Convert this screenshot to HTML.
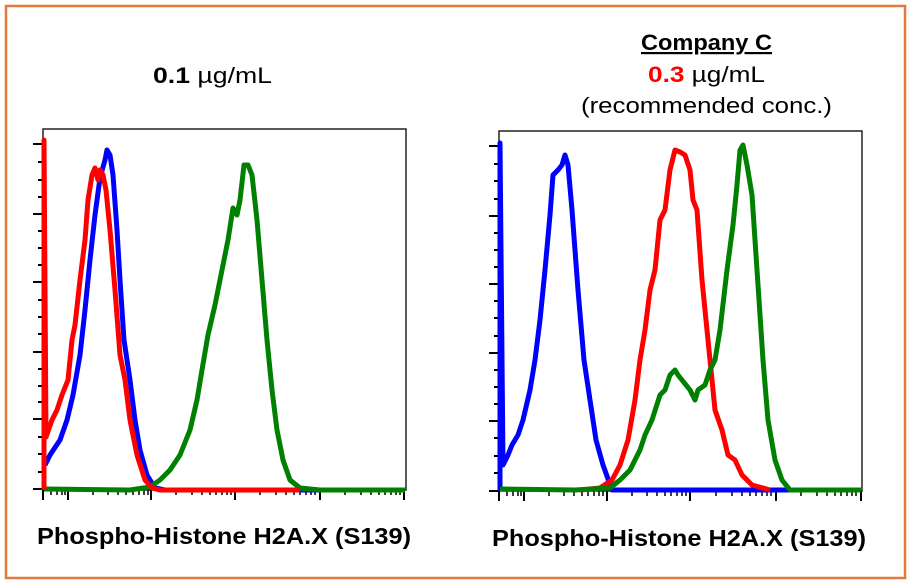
<!DOCTYPE html>
<html><head><meta charset="utf-8"><style>
body{margin:0;background:#fff;}
svg{display:block}
text{font-family:"Liberation Sans",sans-serif;}
</style></head><body>
<svg width="911" height="588" viewBox="0 0 911 588" xmlns="http://www.w3.org/2000/svg">
<rect x="6" y="6" width="899" height="572" fill="#fff" stroke="#e07b39" stroke-width="2.5"/>
<g font-size="22" fill="#000">
<text x="153" y="83" textLength="119" lengthAdjust="spacingAndGlyphs"><tspan font-weight="bold">0.1</tspan> µg/mL</text>
<text x="641" y="50" font-weight="bold" text-decoration="underline" textLength="131" lengthAdjust="spacingAndGlyphs">Company C</text>
<text x="648" y="82" textLength="117" lengthAdjust="spacingAndGlyphs"><tspan font-weight="bold" fill="#f00">0.3</tspan> µg/mL</text>
<text x="581" y="113" textLength="251" lengthAdjust="spacingAndGlyphs">(recommended conc.)</text>
</g>
<g font-size="23" font-weight="bold" fill="#000">
<text x="37" y="544" textLength="374" lengthAdjust="spacingAndGlyphs">Phospho-Histone H2A.X (S139)</text>
<text x="492" y="546" textLength="374" lengthAdjust="spacingAndGlyphs">Phospho-Histone H2A.X (S139)</text>
</g>
<!-- left plot -->
<g>
<rect x="43" y="129" width="363" height="361" fill="none" stroke="#222" stroke-width="1.5"/>
<g stroke="#000" stroke-width="2">
<line x1="33" y1="144" x2="43" y2="144"/><line x1="33" y1="214" x2="43" y2="214"/><line x1="33" y1="282" x2="43" y2="282"/><line x1="33" y1="352" x2="43" y2="352"/><line x1="33" y1="419" x2="43" y2="419"/><line x1="33" y1="489" x2="43" y2="489"/>
<line x1="38" y1="162" x2="43" y2="162"/><line x1="38" y1="180" x2="43" y2="180"/><line x1="38" y1="197" x2="43" y2="197"/><line x1="38" y1="231" x2="43" y2="231"/><line x1="38" y1="248" x2="43" y2="248"/><line x1="38" y1="265" x2="43" y2="265"/><line x1="38" y1="300" x2="43" y2="300"/><line x1="38" y1="317" x2="43" y2="317"/><line x1="38" y1="334" x2="43" y2="334"/><line x1="38" y1="369" x2="43" y2="369"/><line x1="38" y1="386" x2="43" y2="386"/><line x1="38" y1="402" x2="43" y2="402"/><line x1="38" y1="437" x2="43" y2="437"/><line x1="38" y1="454" x2="43" y2="454"/><line x1="38" y1="472" x2="43" y2="472"/>
<line x1="43" y1="490" x2="43" y2="500"/><line x1="68" y1="490" x2="68" y2="500"/><line x1="151" y1="490" x2="151" y2="500"/><line x1="235" y1="490" x2="235" y2="500"/><line x1="320" y1="490" x2="320" y2="500"/><line x1="404" y1="490" x2="404" y2="500"/>
</g>
<g stroke="#000" stroke-width="1.5">
<path d="M51 490v5M57 490v5M62 490v5M65 490v5M93 490v5M108 490v5M118 490v5M126 490v5M133 490v5M139 490v5M144 490v5M148 490v5M176 490v5M192 490v5M202 490v5M210 490v5M216 490v5M222 490v5M227 490v5M231 490v5M260 490v5M276 490v5M286 490v5M294 490v5M300 490v5M306 490v5M311 490v5M315 490v5M345 490v5M361 490v5M371 490v5M379 490v5M385 490v5M391 490v5M396 490v5M400 490v5"/>
</g>
<g fill="none" stroke-width="5" stroke-linejoin="round">
<polyline stroke="#0000ff" points="45,465 50,455 60,440 67,420 73,395 80,355 85,310 90,260 95,215 100,178 105,160 107,150 110,155 113,175 117,230 120,280 124,340 130,380 135,420 140,450 147,475 155,488 165,490 405,490"/>
<polyline stroke="#008000" points="44,489 130,490 150,487 160,480 170,470 180,455 190,430 197,400 202,370 208,335 215,305 222,270 228,240 233,208 237,215 240,200 244,165 248,165 252,175 257,220 262,280 267,340 272,390 277,430 283,460 290,480 300,488 320,490 405,490"/>
<polyline stroke="#ff0000" points="44,490 44,140 46,437 52,420 57,410 62,395 68,380 72,340 75,325 80,280 85,240 88,200 92,175 95,168 98,180 100,170 103,175 106,190 110,230 115,290 120,355 125,380 130,420 137,455 145,480 152,488 160,490 300,490"/>
</g>
</g>
<!-- right plot -->
<g>
<rect x="499" y="131" width="363" height="360" fill="none" stroke="#222" stroke-width="1.5"/>
<g stroke="#000" stroke-width="2">
<line x1="489" y1="146" x2="499" y2="146"/><line x1="489" y1="216" x2="499" y2="216"/><line x1="489" y1="284" x2="499" y2="284"/><line x1="489" y1="353" x2="499" y2="353"/><line x1="489" y1="421" x2="499" y2="421"/><line x1="489" y1="491" x2="499" y2="491"/>
<line x1="494" y1="164" x2="499" y2="164"/><line x1="494" y1="181" x2="499" y2="181"/><line x1="494" y1="199" x2="499" y2="199"/><line x1="494" y1="233" x2="499" y2="233"/><line x1="494" y1="250" x2="499" y2="250"/><line x1="494" y1="267" x2="499" y2="267"/><line x1="494" y1="301" x2="499" y2="301"/><line x1="494" y1="318" x2="499" y2="318"/><line x1="494" y1="336" x2="499" y2="336"/><line x1="494" y1="370" x2="499" y2="370"/><line x1="494" y1="387" x2="499" y2="387"/><line x1="494" y1="404" x2="499" y2="404"/><line x1="494" y1="438" x2="499" y2="438"/><line x1="494" y1="456" x2="499" y2="456"/><line x1="494" y1="473" x2="499" y2="473"/>
<line x1="499" y1="491" x2="499" y2="501"/><line x1="524" y1="491" x2="524" y2="501"/><line x1="607" y1="491" x2="607" y2="501"/><line x1="690" y1="491" x2="690" y2="501"/><line x1="776" y1="491" x2="776" y2="501"/><line x1="861" y1="491" x2="861" y2="501"/>
</g>
<g stroke="#000" stroke-width="1.5">
<path d="M507 491v5M513 491v5M518 491v5M521 491v5M549 491v5M564 491v5M574 491v5M582 491v5M588 491v5M594 491v5M599 491v5M603 491v5M632 491v5M647 491v5M657 491v5M665 491v5M671 491v5M677 491v5M682 491v5M686 491v5M716 491v5M732 491v5M742 491v5M750 491v5M756 491v5M762 491v5M767 491v5M771 491v5M801 491v5M817 491v5M827 491v5M835 491v5M841 491v5M847 491v5M852 491v5M856 491v5"/>
</g>
<g fill="none" stroke-width="5" stroke-linejoin="round">
<polyline stroke="#0000ff" points="500,491 500,143 503,465 508,455 512,445 518,435 523,420 530,390 535,360 540,320 545,270 550,215 553,175 558,170 562,165 565,155 568,165 572,210 578,290 584,360 590,400 596,440 603,465 612,490 861,490"/>
<polyline stroke="#ff0000" points="580,490 600,488 612,480 620,465 628,440 635,400 640,360 645,330 650,290 655,270 660,220 665,210 670,170 675,150 680,152 685,155 690,170 693,200 697,210 702,280 708,340 715,410 722,430 728,455 735,460 742,475 752,485 770,490"/>
<polyline stroke="#008000" points="500,489 575,490 610,488 620,480 630,470 640,450 645,435 652,420 660,395 665,390 670,375 675,370 678,375 690,390 695,400 698,390 705,385 710,370 715,360 720,330 727,270 733,225 737,185 740,150 743,145 747,165 752,195 757,270 763,360 768,420 775,460 782,480 790,490 861,490"/>
</g>
</g>
</svg>
</body></html>
